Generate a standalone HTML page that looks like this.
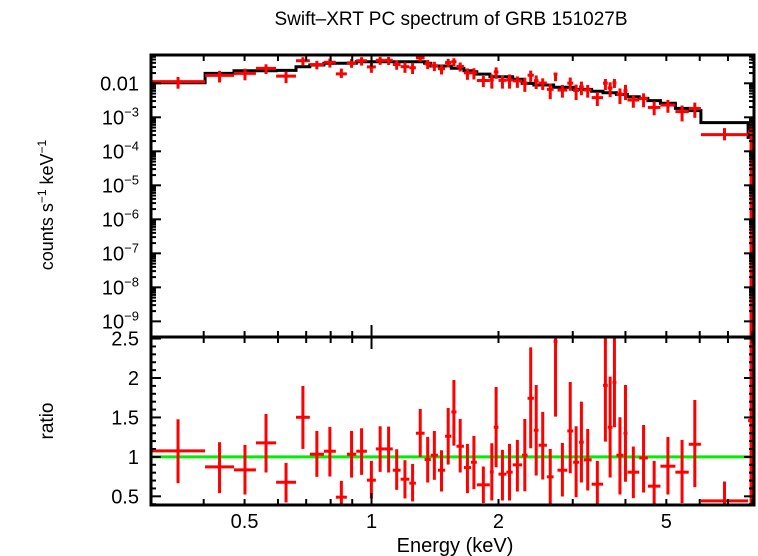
<!DOCTYPE html>
<html><head><meta charset="utf-8">
<style>
html,body{margin:0;padding:0;background:#fff;}
svg{display:block;font-family:"Liberation Sans",Arial,sans-serif;}
</style></head>
<body>
<svg id="chart" width="758" height="556" viewBox="0 0 758 556">
  <text x="451" y="25" text-anchor="middle" font-size="19">Swift–XRT PC spectrum of GRB 151027B</text>
  <text transform="translate(53,205) rotate(-90)" text-anchor="middle" font-size="18">counts s<tspan dy="-7" font-size="12">−1</tspan><tspan dy="7"> keV</tspan><tspan dy="-7" font-size="12">−1</tspan></text>
  <text transform="translate(53,421) rotate(-90)" text-anchor="middle" font-size="19">ratio</text>
  <text x="455" y="552" text-anchor="middle" font-size="20">Energy (keV)</text>
  <g id="marks"></g>
</svg>
<script>
const binEdges = [0.300,0.403,0.472,0.532,0.594,0.662,0.714,0.771,0.823,0.874,0.920,0.975,1.024,1.073,1.123,1.172,1.229,1.274,1.336,1.382,1.437,1.494,1.546,1.590,1.656,1.721,1.777,1.908,1.949,2.000,2.088,2.161,2.275,2.344,2.426,2.489,2.605,2.702,2.760,2.912,3.007,3.105,3.186,3.326,3.539,3.632,3.727,3.807,3.958,4.044,4.313,4.521,4.842,5.254,5.651,6.039,7.815,8.07];
const modelCounts = [0.0104,0.0196,0.0234,0.0234,0.024,0.0307,0.0344,0.0387,0.0387,0.0387,0.043,0.043,0.043,0.043,0.043,0.043,0.043,0.043,0.0387,0.0323,0.0323,0.0323,0.0276,0.0276,0.0234,0.0219,0.0187,0.0156,0.0156,0.0156,0.0156,0.0131,0.0099,0.0099,0.0089,0.0089,0.0089,0.0076,0.0076,0.0076,0.0066,0.0066,0.0066,0.0058,0.0053,0.0053,0.0053,0.0047,0.0047,0.0040,0.0036,0.0031,0.0026,0.00183,0.00157,0.0007,0.000257];
const ratio = [1.076,0.873,0.835,1.177,0.679,1.502,1.034,1.072,0.489,1.034,1.072,0.705,1.101,1.101,0.831,0.717,0.667,1.300,0.966,1.021,0.831,1.262,1.570,1.135,0.865,0.932,0.646,0.810,1.376,0.781,0.806,0.899,1.021,1.743,1.338,1.148,0.747,2.464,0.831,1.329,0.932,1.186,0.962,0.654,1.907,1.376,1.945,1.021,1.300,0.806,0.987,0.629,0.882,0.806,1.160,0.443,1.460];
const ratioHigh = [1.477,1.186,1.152,1.544,0.924,1.899,1.329,1.380,0.696,1.329,1.363,0.949,1.388,1.384,1.097,0.958,0.911,1.608,1.253,1.329,1.084,1.620,1.975,1.481,1.165,1.266,0.878,1.173,1.886,1.089,1.165,1.215,1.481,2.388,1.911,1.570,1.101,2.532,1.177,1.949,1.388,1.700,1.354,0.949,2.532,2.017,2.532,1.502,1.911,1.131,1.405,0.949,1.253,1.215,1.722,0.688,2.532];
const ratioLow = [0.667,0.540,0.523,0.802,0.422,1.101,0.747,0.751,0.371,0.738,0.772,0.473,0.810,0.802,0.582,0.473,0.435,1.0,0.675,0.709,0.561,0.903,1.143,0.802,0.540,0.591,0.414,0.447,0.869,0.447,0.447,0.561,0.565,1.110,0.764,0.713,0.384,1.511,0.498,0.793,0.489,0.675,0.574,0.371,1.194,0.738,1.376,0.523,0.684,0.477,0.549,0.371,0.523,0.414,0.616,0.300,0];
const xTickValues = [0.4,0.5,0.6,0.7,0.8,0.9,1,2,3,4,5,6,7,8];
const xTickLabels = {"0.5":"0.5","1":"1","2":"2","5":"5"};
const topDecades = [-2,-3,-4,-5,-6,-7,-8,-9];
const ratioTicks = [0.5,1,1.5,2,2.5];
const ratioTickLabels = ["0.5","1","1.5","2","2.5"];

const L=151, R=754, T=55, M=337, B=505;
const X0=Math.log10(0.300), X1=Math.log10(8.07);
const xS = e => L + (Math.log10(e)-X0)/(X1-X0)*(R-L);
const Y0=-9.46, Y1=-1.168;
const yTop = c => { if(c<=0) return M; const v=T+(Y1-Math.log10(c))/(Y1-Y0)*(M-T); return Math.min(M,Math.max(T,v)); };
const R0=0.39, R1=2.52;
const yBot = r => { const v=M+(R1-r)/(R1-R0)*(B-M); return Math.min(B,Math.max(M,v)); };

const NS="http://www.w3.org/2000/svg";
const g=document.getElementById('marks');
function mk(tag,attrs,parent){const e=document.createElementNS(NS,tag);for(const k in attrs)e.setAttribute(k,attrs[k]);(parent||g).appendChild(e);return e;}
function line(x1,y1,x2,y2,col,w,parent){return mk('line',{x1:x1,y1:y1,x2:x2,y2:y2,stroke:col,'stroke-width':w},parent);}

let d='';
for(let i=0;i<modelCounts.length;i++){
  const xa=xS(binEdges[i]), xb=xS(binEdges[i+1]), y=yTop(modelCounts[i]);
  d += (i===0?'M':'L')+xa.toFixed(1)+','+y.toFixed(1)+' L'+xb.toFixed(1)+','+y.toFixed(1)+' ';
}
const model=mk('path',{d:d,fill:'none',stroke:'#000','stroke-width':3});



const unity=line(L,yBot(1),R,yBot(1),'#00ee00',3);



for(let i=0;i<ratio.length;i++){
  const xa=xS(binEdges[i]), xb=xS(binEdges[i+1]), xc=xS(Math.sqrt(binEdges[i]*binEdges[i+1]));
  const grp=mk('g',{});
  
  
  const m=modelCounts[i];
  line(xa,yTop(m*ratio[i]),xb,yTop(m*ratio[i]),'#ff0000',3,grp);
  line(xc,yTop(m*ratioHigh[i]),xc,yTop(m*ratioLow[i]),'#ff0000',3,grp);
  line(xa,yBot(ratio[i]),xb,yBot(ratio[i]),'#ff0000',3,grp);
  line(xc,yBot(ratioHigh[i]),xc,yBot(ratioLow[i]),'#ff0000',3,grp);
}

const frame=mk('g',{});


mk('rect',{x:L,y:T,width:R-L,height:B-T,fill:'none',stroke:'#000','stroke-width':3},frame);
line(L,M,R,M,'#000',3,frame);

xTickValues.forEach(v=>{
  const x=xS(v); const major=(v===1);
  const len=major?12:6;
  [T,M,B].forEach((y0,k)=>{
    if(k!==2) line(x,y0,x,y0+len,'#000',2,frame);
    if(k!==0) line(x,y0,x,y0-len,'#000',2,frame);
  });
  if(xTickLabels[String(v)]){
    const t=mk('text',{x:x,y:528,'text-anchor':'middle','font-size':20});
    t.textContent=xTickLabels[String(v)];
    
    
  }
});

topDecades.forEach(p=>{
  const y=yTop(Math.pow(10,p));
  line(L,y,L+10,y,'#000',2,frame); line(R,y,R-10,y,'#000',2,frame);
  for(let k=2;k<=9;k++){
    const yy=yTop(k*Math.pow(10,p));
    if(yy>T && yy<M){ line(L,yy,L+5,yy,'#000',2,frame); line(R,yy,R-5,yy,'#000',2,frame); }
  }
  const t=mk('text',{x:139,y:y+7,'text-anchor':'end','font-size':20});
  
  
  if(p===-2){ t.textContent='0.01'; }
  else { t.textContent='10'; const s=mk('tspan',{dy:-8,'font-size':13},t); s.textContent='−'+(-p); }
});

for(let r=0.4;r<=2.5001;r+=0.1){
  const y=yBot(r); const major=Math.abs(r*2-Math.round(r*2))<1e-6;
  const len=major?10:5;
  line(L,y,L+len,y,'#000',2,frame); line(R,y,R-len,y,'#000',2,frame);
}
ratioTicks.forEach((r,i)=>{
  const t=mk('text',{x:139,y:yBot(r)+7,'text-anchor':'end','font-size':20});
  t.textContent=ratioTickLabels[i];
  
  
});
</script>
</body></html>
